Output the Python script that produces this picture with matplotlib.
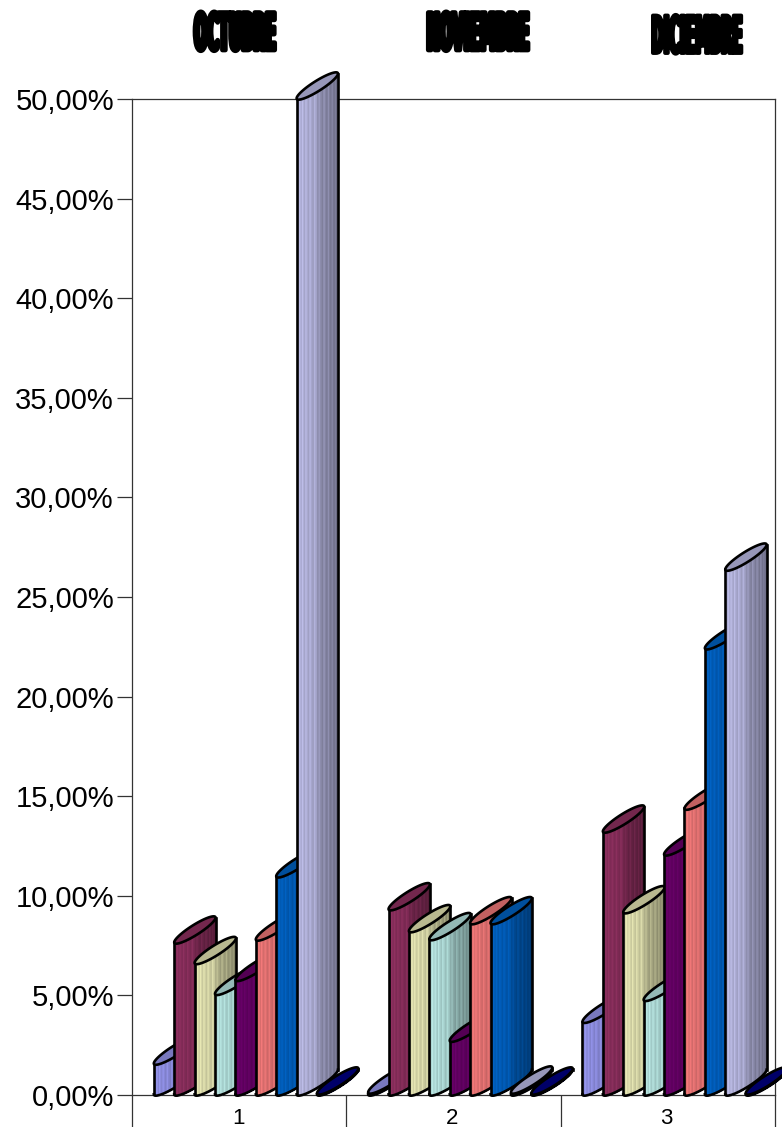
import numpy as np
import matplotlib
matplotlib.use('Agg')
from matplotlib import pyplot as plt
from matplotlib import patheffects as pe
from matplotlib.text import Text
from matplotlib.transforms import Affine2D, Bbox

plt.rcParams['font.family'] = ['Liberation Sans', 'DejaVu Sans']

months = ['OCTUBRE', 'NOVIEMBRE', 'DICIEMBRE']
groups = ['1', '2', '3']
yticks = [0, 5, 10, 15, 20, 25, 30, 35, 40, 45, 50]
s1 = [1.55, 0.1, 3.65]
s2 = [7.63, 9.3, 13.2]
s3 = [6.6, 8.2, 9.15]
s4 = [5.05, 7.8, 4.75]
s5 = [5.75, 2.7, 12.05]
s6 = [7.78, 8.6, 14.35]
s7 = [10.95, 8.6, 22.4]
s8 = [50.0, 0.1, 26.35]
s9 = [0.05, 0.05, 0.05]
series = [s1, s2, s3, s4, s5, s6, s7, s8, s9]
colors = ['#9292e8', '#8c2f5e', '#e2e2b0', '#b4e2de', '#660066',
          '#ec7676', '#0060c0', '#b8b8e2', '#000080']


# squeezes the text sideways like the wordart titles, text stays real text
class Squeeze(pe.AbstractPathEffect):
    def __init__(self, sx, cx, lw):
        super().__init__()
        self.sx, self.cx, self.lw = sx, cx, lw

    def draw_path(self, renderer, gc, tpath, affine, rgbFace=None):
        gc0 = renderer.new_gc()
        gc0.copy_properties(gc)
        gc0.set_linewidth(self.lw)
        gc0.set_foreground('black')
        aff = affine + Affine2D().translate(-self.cx, 0).scale(self.sx, 1).translate(self.cx, 0)
        renderer.draw_path(gc0, tpath, aff, rgbFace)
        gc0.restore()


# reports the extent that is really drawn after the squeeze
class SqueezedText(Text):
    sx = 1.0
    cx = 0.0

    def get_window_extent(self, renderer=None, dpi=None):
        bb = super().get_window_extent(renderer, dpi)
        return Bbox.from_extents(self.cx + (bb.x0 - self.cx) * self.sx, bb.y0,
                                 self.cx + (bb.x1 - self.cx) * self.sx, bb.y1)


W, H = 782, 1127
fig = plt.figure(figsize=(W / 100, H / 100), dpi=100)
L, R, T, B = 132, 775, 99, 1095
ax = fig.add_axes([L / W, (H - B) / H, (R - L) / W, (B - T) / H])
ax.set_xlim(0, 3)
ax.set_ylim(0, 50)
px = (R - L) / 3       # pixels per group
py = (B - T) / 50      # pixels per percent
step = 20.4 / px
first = 22 / px

for sp in ax.spines.values():
    sp.set_color('#333333')
    sp.set_linewidth(0.9)

ax.set_yticks(yticks)
ax.set_yticklabels([('%.2f' % v).replace('.', ',') + '%' for v in yticks], fontsize=21)
ax.tick_params(axis='y', length=11, width=0.9, color='#333333', pad=2)
ax.set_xticks([0, 1, 2, 3])
ax.set_xticklabels([])
ax.tick_params(axis='x', length=23, width=0.9, color='#333333')
ax.set_xticks([0.495, 1.495, 2.495], minor=True)
ax.set_xticklabels(groups, minor=True, fontsize=16)
ax.tick_params(axis='x', which='minor', length=0, pad=9)

# cylinder shape in pixels
Ax, Ay = 20.5, 13.0
Bx, By = 2.7, -4.2
phi = np.arctan2(Bx, Ax)
edge_lw = 1.9


def ellipse(x0, base, t):
    cx = x0 + Ax / px
    cy = base + Ay / py
    xs = cx + (Ax * np.cos(t) + Bx * np.sin(t)) / px
    ys = cy + (Ay * np.cos(t) + By * np.sin(t)) / py
    return xs, ys


def cylinder(x0, val, col, z):
    base_rgb = np.array(matplotlib.colors.to_rgb(col))
    u = np.linspace(np.pi, 0, 42)
    xl, yb = ellipse(x0, 0, u + phi)
    xt, yt = ellipse(x0, val, u + phi)
    # each strip runs to the right end, the next one paints over it so no gaps show
    for i in range(len(u) - 1):
        frac = i / (len(u) - 2)
        shade = np.interp(frac, [0, 0.08, 0.48, 0.52, 0.92, 1], [1.04, 1.0, 0.88, 0.76, 0.6, 0.5])
        shade += 0.08 * (i % 3 == 0) - 0.05 * (i % 3 == 2)
        ax.fill_between(xl[i:], yb[i:], yt[i:], color=np.clip(base_rgb * shade, 0, 1),
                        lw=0, antialiased=False, clip_on=False, zorder=z)
    ax.plot(xl, yb, color='k', lw=edge_lw, clip_on=False, zorder=z + 0.1)
    ax.plot([xl[0], xl[0]], [yb[0], yt[0]], color='k', lw=edge_lw, clip_on=False, zorder=z + 0.1)
    ax.plot([xl[-1], xl[-1]], [yb[-1], yt[-1]], color='k', lw=edge_lw, clip_on=False, zorder=z + 0.1)
    ex, ey = ellipse(x0, val, np.linspace(0, 2 * np.pi, 120))
    ax.fill(ex, ey, facecolor=base_rgb * 0.82, edgecolor='k', lw=edge_lw, clip_on=False, zorder=z + 0.2)


for g in range(3):
    for k, vals in enumerate(series):
        cylinder(g + first + k * step, vals[g], colors[k], 5 + k)

# wordart style titles
title_x = [235, 478, 697]
title_y = [36, 36, 39]
title_sx = [0.30, 0.297, 0.285]
title_lw = [3.4, 3.4, 2.8]
for name, x, y, sx, lw in zip(months, title_x, title_y, title_sx, title_lw):
    t = SqueezedText(x / W, 1 - y / H, name, ha='center', va='center', fontsize=37, fontweight='bold',
                     color='k', family='DejaVu Sans', transform=fig.transFigure)
    t.sx, t.cx = sx, x
    t.set_path_effects([Squeeze(sx, x, lw)])
    fig.add_artist(t)

fig.savefig('out.png', dpi=100)
